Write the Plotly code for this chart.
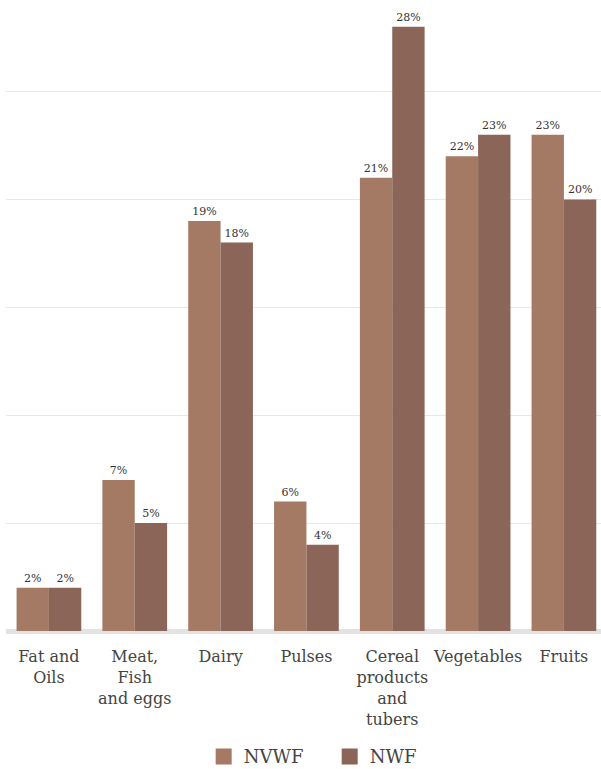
import plotly.graph_objects as go

categories = ["Fat and<br>Oils", "Meat,<br>Fish<br>and eggs", "Dairy", "Pulses",
              "Cereal<br>products<br>and<br>tubers", "Vegetables", "Fruits"]
nvwf = [2, 7, 19, 6, 21, 22, 23]
nwf = [2, 5, 18, 4, 28, 23, 20]
series_names = ["NVWF", "NWF"]
colors = ["#a57a65", "#8a6558"]

FONT = "DejaVu Serif"

fig = go.Figure()
for name, vals, col in zip(series_names, [nvwf, nwf], colors):
    fig.add_trace(go.Bar(
        x=categories, y=vals, name=name, marker=dict(color=col, line=dict(width=0)),
        text=[f"{v}%" for v in vals], textposition="outside",
        textfont=dict(family=FONT, size=11, color="#333333"),
        cliponaxis=False, showlegend=False, legendgroup=name,
    ))
# legend-only entries with larger square swatches
for name, col in zip(series_names, colors):
    fig.add_trace(go.Scatter(
        x=[None], y=[None], mode="markers", name=name, legendgroup=name,
        marker=dict(symbol="square", size=17, color=col),
    ))

fig.update_layout(
    width=601, height=769,
    margin=dict(l=6, r=0, t=13, b=138, autoexpand=False),
    plot_bgcolor="white", paper_bgcolor="white",
    barmode="group", bargap=0.246, bargroupgap=0,
    font=dict(family=FONT, color="#444444"),
    showlegend=True,
    legend=dict(orientation="h", x=0.544, xanchor="center", yref="container",
                y=0.016, yanchor="middle", bgcolor="rgba(0,0,0,0)",
                font=dict(family=FONT, size=18, color="#444444"),
                entrywidth=81, itemwidth=30),
)
fig.update_xaxes(
    range=[-0.5, 6.432], showgrid=False, showline=False, automargin=False,
    tickfont=dict(family=FONT, size=16, color="#444444"),
    ticks="outside", ticklen=11, tickcolor="rgba(0,0,0,0)",
)
fig.update_yaxes(
    range=[0, 28.64], dtick=5, showticklabels=False, showgrid=True,
    gridcolor="#e8e8e8", gridwidth=1, zeroline=True, zerolinecolor="#e2e2e2",
    zerolinewidth=5,
)
fig.write_html("out.html")
